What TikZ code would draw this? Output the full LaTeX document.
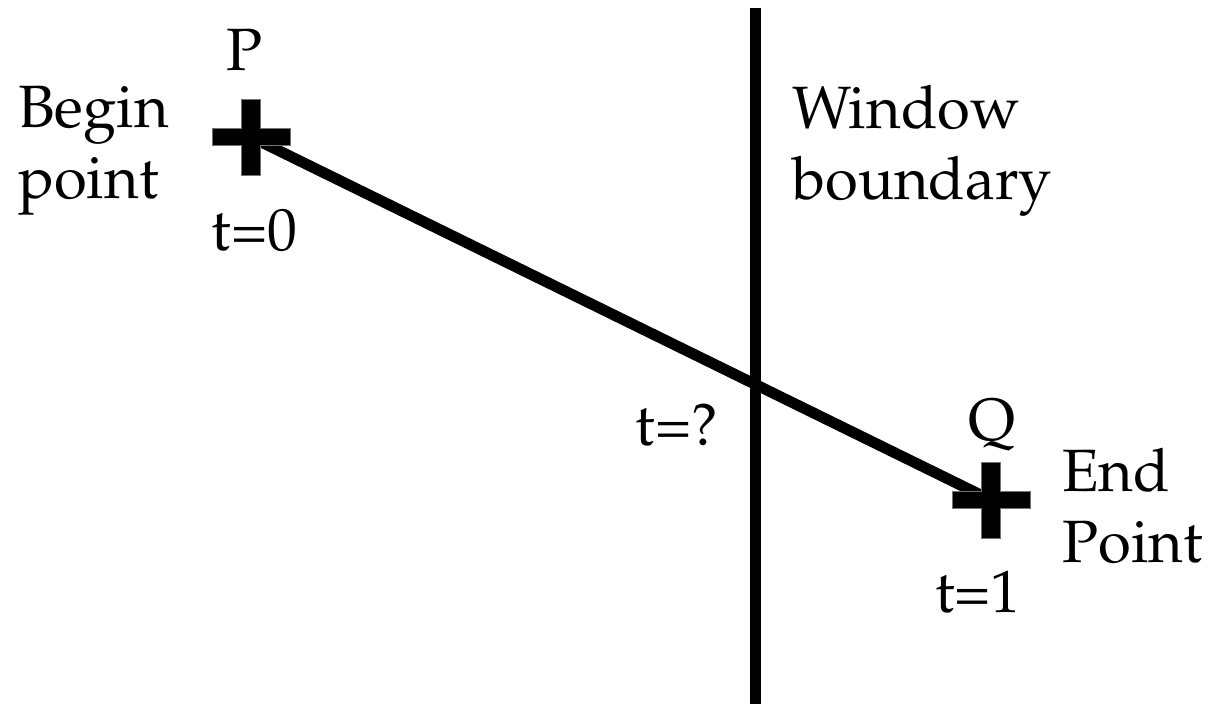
\documentclass[tikz,border=0pt]{standalone}
\IfFileExists{mathpazo.sty}{\usepackage[T1]{fontenc}\usepackage{mathpazo}}{\usepackage{fontspec}\setmainfont{Liberation Serif}}
\usepackage{tikz}
\usetikzlibrary{positioning}
\tikzset{
  lbl/.style ={inner sep=0pt, font=\fontsize{34}{40}\selectfont},
  txt/.style ={inner sep=0pt, align=left, font=\fontsize{34}{40}\selectfont},
  seg/.style ={line width=6.2pt},
  crs/.style ={fill=black, draw=black!55, line width=0.4pt},
}
\newcommand{\plusmark}[1]{%
  \draw[crs, shift={(#1)}] (-9.5,-38) -- (9.5,-38) -- (9.5,-8.5) -- (39,-8.5) -- (39,8.5)
    -- (9.5,8.5) -- (9.5,38) -- (-9.5,38) -- (-9.5,8.5) -- (-39,8.5) -- (-39,-8.5)
    -- (-9.5,-8.5) -- cycle;}
\begin{document}
\begin{tikzpicture}[x=0.02cm, y=-0.02cm]
  \useasboundingbox (0,0) rectangle (1209,704);
  % --- window boundary ---
  \coordinate (wtop) at (755.5,8);
  \coordinate (wbot) at (755.5,704);
  \draw[seg] (wtop) -- (wbot);
  % --- segment P -> Q ---
  \coordinate (p) at (251,137);
  \coordinate (q) at (991,500);
  \draw[seg] (p) -- (q);
  \plusmark{p}
  \plusmark{q}
  % --- labels ---
  \node[lbl, anchor=base] (pname) at (245,70) {P};
  \node[lbl, anchor=base] (t0) at (254.5,250) {t=0};
  \node[lbl, anchor=base] (qname) at (992,440) {Q};
  \node[lbl, anchor=base] (t1) at (978,612) {t=1};
  \node[lbl, anchor=base] (tq) at (677,445) {t=?};
  \node[txt, anchor=base west] (begin) at (18,198) {Begin\\point};
  \node[txt, anchor=base west] (window) at (792,199) {Window\\boundary};
  \node[txt, anchor=base west] (endpt) at (1062,562) {End\\Point};
\end{tikzpicture}
\end{document}
